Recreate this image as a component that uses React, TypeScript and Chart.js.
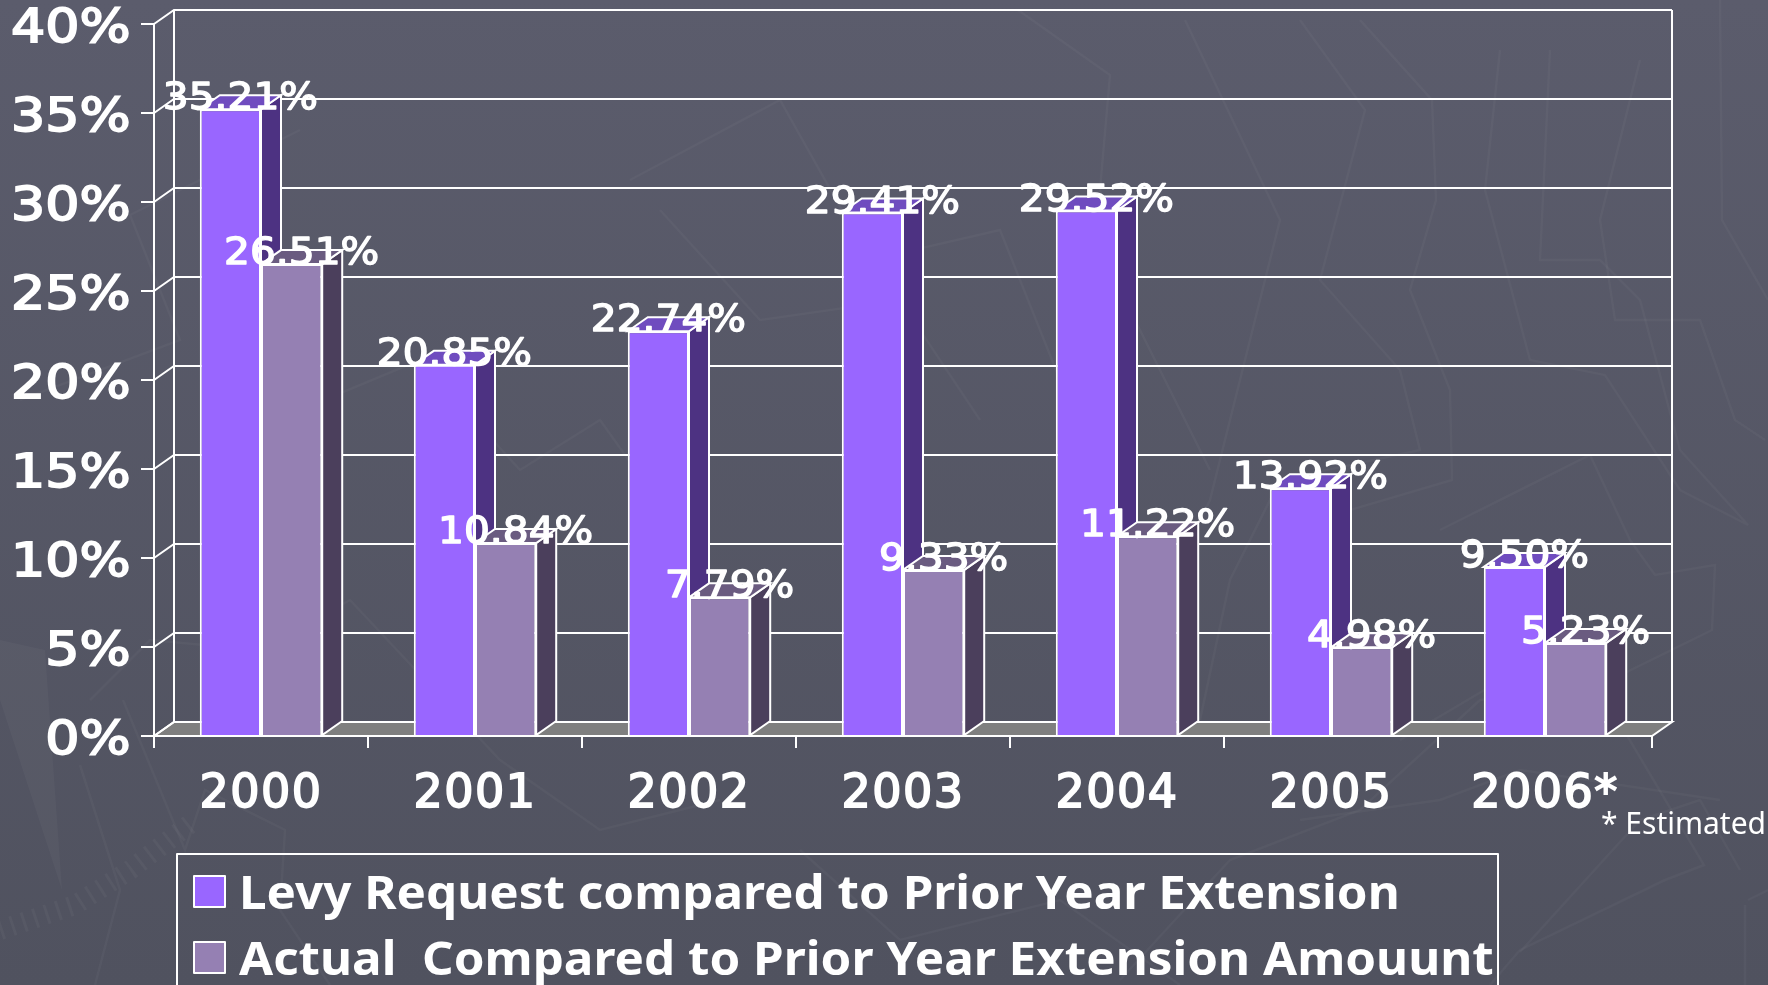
import React, { useEffect, useRef } from "react";
import { Chart, registerables } from "chart.js";

Chart.register(...registerables);

const categories = ["2000", "2001", "2002", "2003", "2004", "2005", "2006*"];
const levyRequest = [35.21, 20.85, 22.74, 29.41, 29.52, 13.92, 9.5];
const actualAmount = [26.51, 10.84, 7.79, 9.33, 11.22, 4.98, 5.23];
const levyLabel = "Levy Request compared to Prior Year Extension";
const actualLabel = "Actual  Compared to Prior Year Extension Amouunt";
const footnote = "* Estimated";

const DX = 20;
const DY = -14;
const FONT = '"DejaVu Sans"';
const Y_LABEL_RIGHT = 133;
const Y_LABEL_STRETCH = 1.17;
const Y_LABEL_SHIFT = 6;

const faces = [
  { front: "#9966ff", top: "#6f4cbf", side: "#4d3282" },
  { front: "#9580b3", top: "#6a5b80", side: "#4b3f5c" },
];

const bgLines = [
  "M1018 10 L1110 75 L1100 190 L1125 300 L1210 470",
  "M1185 20 L1280 220 L1210 500 L1140 640",
  "M1300 20 L1365 110 L1320 280 L1400 370 L1420 450 L1280 480 L1230 580 L1200 720",
  "M1360 20 L1432 100 L1436 200 L1410 290 L1450 390 L1452 480 L1350 510 L1278 610 L1290 650",
  "M1500 50 L1485 190 L1530 360 L1605 375 L1680 490 L1748 525 L1680 450 L1640 300 L1600 260 L1540 260 L1550 50",
  "M1640 60 L1600 220 L1615 320 L1700 320 L1735 420 L1765 440",
  "M1720 0 L1722 220 L1768 300",
  "M1440 530 L1590 455 L1630 540 L1655 575 L1715 565 L1712 630 L1590 690 L1535 660 L1400 740",
  "M20 400 L180 340 L130 215 L300 130",
  "M90 700 L150 640 L260 650 L350 600 L500 760 L600 830 L720 800",
  "M123 700 L185 850 L205 790 L285 830 L280 910 L330 985",
  "M80 765 L120 890 L95 985",
  "M630 180 L780 100 L870 260 L1000 230 L1060 380",
  "M660 210 L760 320 L900 300 L980 420",
  "M300 410 L420 360 L520 470 L600 420 L700 560",
  "M1120 980 L1230 860 L1360 810 L1480 700 L1600 690 L1704 865 L1665 880 L1520 950 L1490 985",
  "M1520 952 L1640 820 L1700 800 L1740 870",
  "M1748 900 L1768 890 M1745 985 L1745 905",
  "M1300 820 L1440 800 L1520 770 L1720 800",
  "M800 850 L900 940 L1060 900 L1180 985",
];

function App() {
  const ref = useRef<HTMLCanvasElement | null>(null);

  useEffect(() => {
    const canvas = ref.current;
    if (!canvas) return;

    const wallPlugin = {
      id: "wall3d",
      beforeDraw(chart: any) {
        const { ctx, scales } = chart;
        if (!scales.y.__stretched) {
          scales.y.__stretched = true;
          const drawY = scales.y.drawLabels.bind(scales.y);
          scales.y.drawLabels = (area: any) => {
            ctx.save();
            ctx.translate(Y_LABEL_RIGHT, Y_LABEL_SHIFT);
            ctx.scale(Y_LABEL_STRETCH, 1);
            ctx.translate(-Y_LABEL_RIGHT, 0);
            drawY(area);
            ctx.restore();
          };
          const drawX = scales.x.drawLabels.bind(scales.x);
          scales.x.drawLabels = (area: any) => {
            ctx.save();
            ctx.letterSpacing = "1.5px";
            drawX(area);
            ctx.restore();
          };
        }
      },
      beforeDatasetsDraw(chart: any) {
        const { ctx, chartArea: a, scales } = chart;
        const y = scales.y;
        ctx.save();
        ctx.strokeStyle = "#ffffff";
        ctx.lineWidth = 2;
        ctx.fillStyle = "#7f7f7f";
        ctx.beginPath();
        ctx.moveTo(a.left, a.bottom);
        ctx.lineTo(a.left + DX, a.bottom + DY);
        ctx.lineTo(a.right + DX, a.bottom + DY);
        ctx.lineTo(a.right, a.bottom);
        ctx.closePath();
        ctx.fill();
        ctx.stroke();
        y.ticks.forEach((t: any) => {
          const py = y.getPixelForValue(t.value);
          ctx.beginPath();
          ctx.moveTo(a.left, py);
          ctx.lineTo(a.left + DX, py + DY);
          ctx.lineTo(a.right + DX, py + DY);
          ctx.stroke();
        });
        ctx.beginPath();
        ctx.moveTo(a.left + DX, a.top + DY);
        ctx.lineTo(a.left + DX, a.bottom + DY);
        ctx.moveTo(a.right + DX, a.top + DY);
        ctx.lineTo(a.right + DX, a.bottom + DY);
        ctx.stroke();
        for (let j = 0; j < categories.length; j++) {
          for (let s = 0; s < 2; s++) {
            const bar = chart.getDatasetMeta(s).data[j];
            const l = bar.x - bar.width / 2;
            const r = bar.x + bar.width / 2;
            const t = bar.y;
            const b = bar.base;
            ctx.fillStyle = faces[s].side;
            ctx.beginPath();
            ctx.moveTo(r, t);
            ctx.lineTo(r + DX, t + DY);
            ctx.lineTo(r + DX, b + DY);
            ctx.lineTo(r, b);
            ctx.closePath();
            ctx.fill();
            ctx.stroke();
            ctx.fillStyle = faces[s].top;
            ctx.beginPath();
            ctx.moveTo(l, t);
            ctx.lineTo(l + DX, t + DY);
            ctx.lineTo(r + DX, t + DY);
            ctx.lineTo(r, t);
            ctx.closePath();
            ctx.fill();
            ctx.stroke();
          }
        }
        ctx.restore();
      },
      afterDatasetsDraw(chart: any) {
        const { ctx } = chart;
        ctx.save();
        ctx.fillStyle = "#ffffff";
        ctx.strokeStyle = "#ffffff";
        ctx.lineJoin = "round";
        ctx.font = `37px ${FONT}`;
        ctx.lineWidth = 1.4;
        ctx.textAlign = "center";
        ctx.textBaseline = "alphabetic";
        chart.data.datasets.forEach((ds: any, s: number) => {
          ds.data.forEach((v: number, j: number) => {
            const bar = chart.getDatasetMeta(s).data[j];
            const txt = v.toFixed(2) + "%";
            ctx.save();
            ctx.translate(bar.x + 10, bar.y);
            ctx.scale(1.1, 1);
            ctx.fillText(txt, 0, 0);
            ctx.strokeText(txt, 0, 0);
            ctx.restore();
          });
        });
        ctx.font = `30px "Noto Sans"`;
        ctx.textAlign = "left";
        ctx.fillText(footnote, 1601, 834);
        ctx.strokeStyle = "#ffffff";
        ctx.lineWidth = 2;
        ctx.strokeRect(177, 854, 1321, 160);
        const rows = [907, 973];
        chart.data.datasets.forEach((ds: any, s: number) => {
          ctx.fillStyle = faces[s].front;
          ctx.fillRect(194, rows[s] - 31, 31, 31);
          ctx.strokeRect(194, rows[s] - 31, 31, 31);
          ctx.fillStyle = "#ffffff";
          ctx.font = `bold 47px "Noto Sans"`;
          ctx.save();
          ctx.translate(239, rows[s] + 2);
          ctx.scale(1.05, 1);
          ctx.fillText(ds.label, 0, 0);
          ctx.restore();
        });
        ctx.restore();
      },
    };

    const chart = new Chart(canvas, {
      type: "bar",
      data: {
        labels: categories,
        datasets: [
          {
            label: levyLabel,
            data: levyRequest,
            backgroundColor: faces[0].front,
            borderColor: "#ffffff",
            borderWidth: 2,
            categoryPercentage: 0.572,
            barPercentage: 1,
          },
          {
            label: actualLabel,
            data: actualAmount,
            backgroundColor: faces[1].front,
            borderColor: "#ffffff",
            borderWidth: 2,
            categoryPercentage: 0.572,
            barPercentage: 1,
          },
        ],
      },
      options: {
        animation: false,
        responsive: false,
        devicePixelRatio: 1,
        layout: { padding: { left: 0, top: 24, right: 116, bottom: 0 } },
        plugins: { legend: { display: false }, tooltip: { enabled: false }, title: { display: false } },
        scales: {
          x: {
            afterFit: (s: any) => {
              s.height = 249;
              s.paddingLeft = 0;
              s.paddingRight = 0;
              s.paddingTop = 0;
              s.paddingBottom = 0;
            },
            grid: { drawOnChartArea: false, color: "#ffffff", lineWidth: 2, tickLength: 12 },
            border: { color: "#ffffff", width: 2 },
            ticks: {
              color: "#ffffff",
              maxRotation: 0,
              autoSkip: false,
              padding: 24,
              font: { family: "DejaVu Sans", size: 46, lineHeight: 1 },
              textStrokeColor: "#ffffff",
              textStrokeWidth: 1.8,
            },
          },
          y: {
            min: 0,
            max: 40,
            afterFit: (s: any) => {
              s.width = 154;
              s.paddingTop = 0;
              s.paddingBottom = 0;
              s.paddingLeft = 0;
              s.paddingRight = 0;
            },
            grid: { drawOnChartArea: false, color: "#ffffff", lineWidth: 2, tickLength: 13 },
            border: { color: "#ffffff", width: 2 },
            ticks: {
              stepSize: 5,
              color: "#ffffff",
              padding: 10,
              callback: (v: any) => v + "%",
              font: { family: "DejaVu Sans", size: 46, lineHeight: 1 },
              textStrokeColor: "#ffffff",
              textStrokeWidth: 1.8,
            },
          },
        },
      },
      plugins: [wallPlugin],
    } as any);

    return () => chart.destroy();
  }, []);

  return (
    <div
      style={{
        position: "fixed",
        left: 0,
        top: 0,
        width: 1768,
        height: 985,
        overflow: "hidden",
        background: "linear-gradient(180deg, #5b5c6c 0%, #50525f 100%)",
      }}
    >
      <svg width={1768} height={985} style={{ position: "absolute", left: 0, top: 0 }}>
        <polygon points="0,640 45,650 62,890 0,700" fill="rgba(255,255,255,0.03)" />
        {bgLines.map((d, i) => (
          <path key={i} d={d} fill="none" stroke="rgba(255,255,255,0.03)" strokeWidth={2.5} />
        ))}
        <path
          d="M0 930 L75 905 L130 870 L195 820"
          fill="none"
          stroke="rgba(255,255,255,0.035)"
          strokeWidth={20}
          strokeDasharray="3 9"
        />
      </svg>
      <canvas ref={ref} width={1768} height={985} style={{ position: "absolute", left: 0, top: 0, display: "block" }} />
    </div>
  );
}

export default App;
